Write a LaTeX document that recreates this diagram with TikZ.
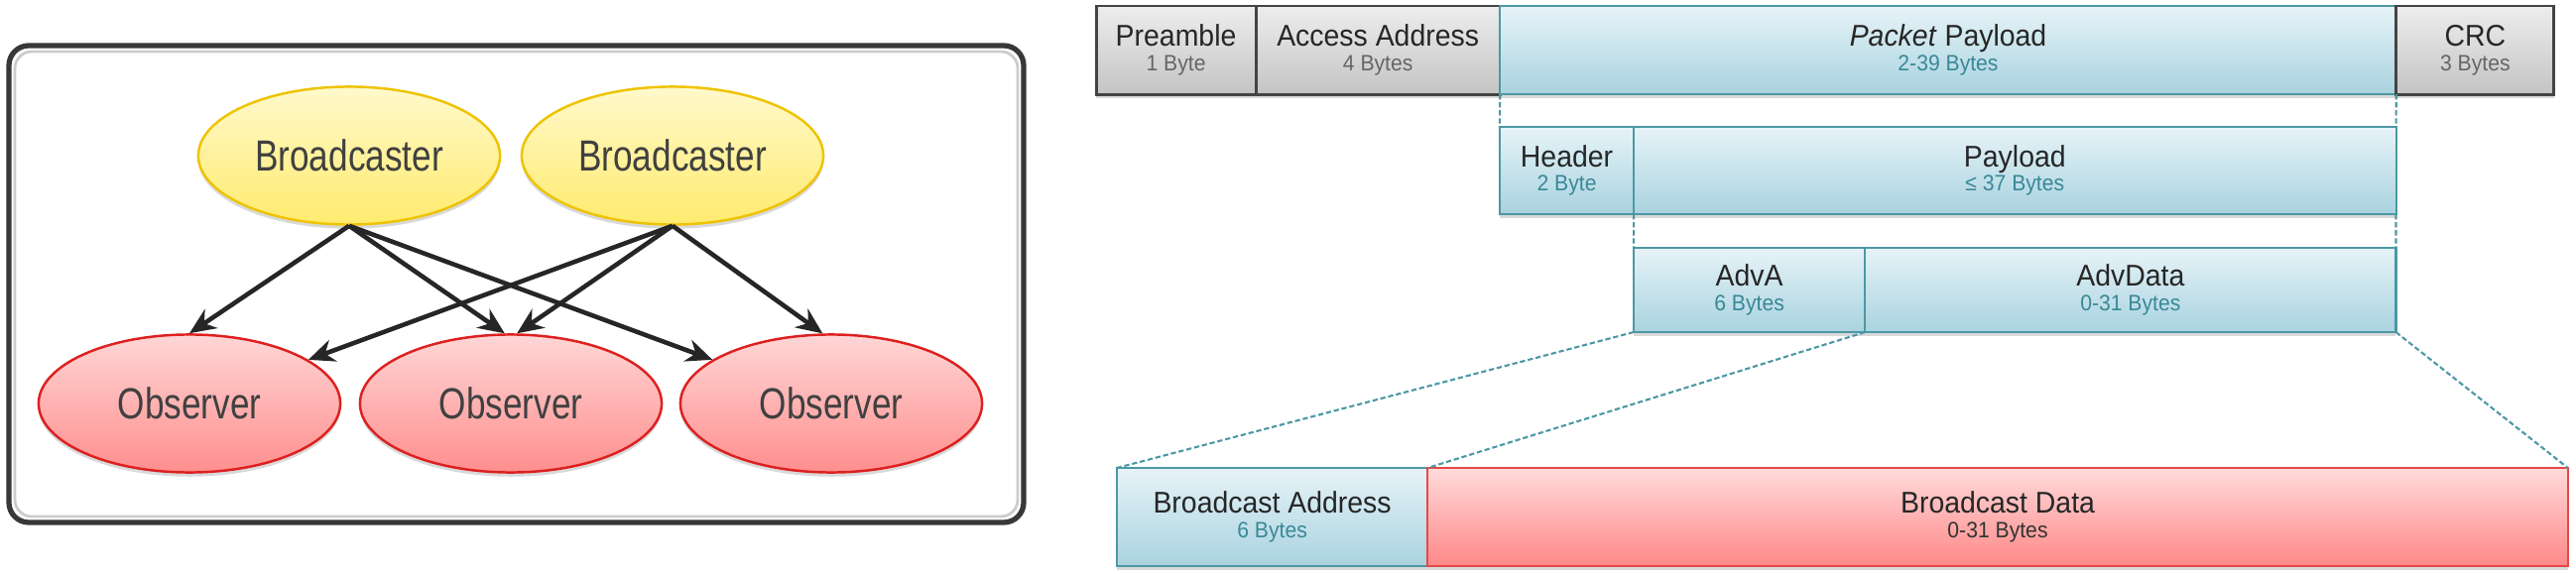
\documentclass[tikz,border=0pt]{standalone}
\usepackage{fontspec}
\setmainfont{Liberation Sans}
\newfontfamily\narrowfont{Liberation Sans}[FakeStretch=0.8]
\newfontfamily\fieldfont{Liberation Sans}[FakeStretch=0.94]
\usetikzlibrary{shapes.geometric,arrows.meta,shadows,positioning}
\definecolor{bcTop}{HTML}{FFF9CC}
\definecolor{bcBot}{HTML}{FFEB6E}
\definecolor{bcLine}{HTML}{EEC300}
\definecolor{obTop}{HTML}{FFD6D6}
\definecolor{obBot}{HTML}{FF8E8E}
\definecolor{obLine}{HTML}{DD2020}
\definecolor{grTop}{HTML}{EDEDED}
\definecolor{grBot}{HTML}{C4C4C4}
\definecolor{grLine}{HTML}{444444}
\definecolor{blTop}{HTML}{E6F3F8}
\definecolor{blBot}{HTML}{A9D3DF}
\definecolor{blLine}{HTML}{4C98A4}
\definecolor{blText}{HTML}{3A8898}
\definecolor{rdTop}{HTML}{FFDADA}
\definecolor{rdBot}{HTML}{FF8888}
\definecolor{rdLine}{HTML}{E54848}
% title and size of one field
\newcommand{\fld}[3]{#2\\[-2pt]{\fontsize{6.4}{7}\selectfont\color{#1}#3}}
\begin{document}
\begin{tikzpicture}[x=0.01cm,y=-0.01cm,
	shade/.style={drop shadow={shadow xshift=0pt,shadow yshift=-1.2pt,opacity=.3}},
	role/.style={ellipse,line width=0.7pt,minimum width=3.04cm,minimum height=1.39cm,
	font=\narrowfont\fontsize{12.5}{14}\selectfont,text=black!75,shade},
	bcast/.style={role,draw=bcLine,top color=bcTop,bottom color=bcBot},
	obs/.style={role,draw=obLine,top color=obTop,bottom color=obBot},
	sig/.style={-{Stealth[length=7.5pt,width=6.5pt,inset=2.4pt]},line width=1.3pt,black!85},
	field/.style={rectangle,outer sep=0pt,inner sep=1pt,align=center,shade,
	font=\fieldfont\fontsize{8.6}{9}\selectfont,text=black!85},
	grayf/.style={field,draw=grLine,line width=0.85pt,top color=grTop,bottom color=grBot,minimum height=0.89cm},
	bluef/.style={field,draw=blLine,line width=0.6pt,top color=blTop,bottom color=blBot},
	redf/.style={field,draw=rdLine,line width=0.6pt,top color=rdTop,bottom color=rdBot},
	link/.style={blLine,line width=0.6pt,dash pattern=on 1.5pt off 0.8pt}]
\useasboundingbox (0,0) rectangle (2597,579);

% broadcaster / observer roles
\draw[black!78,line width=1.5pt,rounded corners=0.2cm] (9,46) rectangle (1032,527);
\draw[black!20,line width=0.8pt,rounded corners=0.17cm] (15,52) rectangle (1026,521);
\node[bcast] (b1) at (352,157) {Broadcaster};
\node[bcast] (b2) at (678,157) {Broadcaster};
\node[obs] (o1) at (191,407) {Observer};
\node[obs] (o2) at (515,407) {Observer};
\node[obs] (o3) at (838,407) {Observer};
\draw[sig] (b1.south) -- (o1.north);
\draw[sig] (b1.south) -- (o2.95);
\draw[sig] (b1.south) -- (o3);
\draw[sig] (b2.south) -- (o1);
\draw[sig] (b2.south) -- (o2.85);
\draw[sig] (b2.south) -- (o3.97);

% packet layout
\node[grayf,minimum width=1.61cm,anchor=north west] (pre) at (1105,6) {\fld{black!60}{Preamble}{1 Byte}};
\node[grayf,minimum width=2.46cm,right=0pt of pre] (acc) {\fld{black!60}{Access Address}{4 Bytes}};
\node[bluef,minimum width=9.03cm,minimum height=0.89cm,right=0pt of acc] (ppl) {\fld{blText}{\textit{Packet} Payload}{2-39 Bytes}};
\node[grayf,minimum width=1.59cm,right=0pt of ppl] (crc) {\fld{black!60}{CRC}{3 Bytes}};

\node[bluef,minimum width=1.35cm,minimum height=0.88cm,anchor=north west] (hdr) at (1512,128) {\fld{blText}{Header}{2 Byte}};
\node[bluef,minimum width=7.68cm,minimum height=0.88cm,right=0pt of hdr] (pl) {\fld{blText}{Payload}{≤ 37 Bytes}};

\node[bluef,minimum width=2.33cm,minimum height=0.85cm,anchor=north west] (adva) at (1647,250) {\fld{blText}{AdvA}{6 Bytes}};
\node[bluef,minimum width=5.35cm,minimum height=0.85cm,right=0pt of adva] (advd) {\fld{blText}{AdvData}{0-31 Bytes}};

\node[bluef,minimum width=3.13cm,minimum height=0.99cm,anchor=north west] (badr) at (1126,472) {\fld{blText}{Broadcast Address}{6 Bytes}};
\node[redf,minimum width=11.49cm,minimum height=0.99cm,right=0pt of badr] (bdat) {\fld{black!80}{Broadcast Data}{0-31 Bytes}};

\draw[link] (ppl.south west) -- (hdr.north west);
\draw[link] (ppl.south east) -- (pl.north east);
\draw[link] (pl.south west) -- (adva.north west);
\draw[link] (pl.south east) -- (advd.north east);
\draw[link] (adva.south west) -- (badr.north west);
\draw[link] (adva.south east) -- (badr.north east);
\draw[link] (advd.south east) -- (bdat.north east);
\end{tikzpicture}
\end{document}
